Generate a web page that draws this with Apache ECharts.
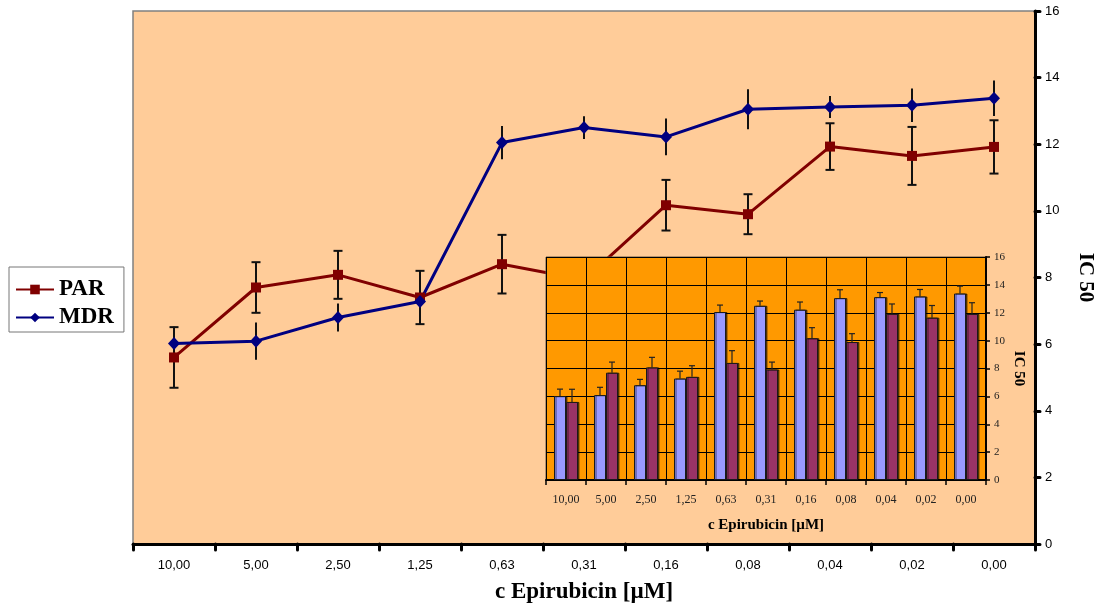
<!DOCTYPE html>
<html>
<head>
<meta charset="utf-8">
<script src="https://cdn.jsdelivr.net/npm/echarts@6/dist/echarts.min.js"></script>
<style>
  html, body { margin: 0; padding: 0; background: #ffffff; }
  #chart { width: 1101px; height: 610px; }
</style>
</head>
<body>
<div id="chart"></div>
<script>
// Epirubicin concentrations (µM)
const categories = ['10,00', '5,00', '2,50', '1,25', '0,63', '0,31', '0,16', '0,08', '0,04', '0,02', '0,00'];

// IC 50 means and standard deviations
const parMean = [5.6, 7.7, 8.08, 7.4, 8.4, 7.93, 10.17, 9.9, 11.93, 11.65, 11.92];
const parErr  = [0.91, 0.76, 0.72, 0.8, 0.88, 0.53, 0.76, 0.6, 0.7, 0.87, 0.8];
const mdrMean = [6.02, 6.09, 6.8, 7.28, 12.05, 12.5, 12.22, 13.05, 13.12, 13.17, 13.38];
const mdrErr  = [0.5, 0.56, 0.42, 0.53, 0.5, 0.34, 0.55, 0.6, 0.33, 0.5, 0.53];

const SERIF = '"Liberation Serif", "Times New Roman", serif';
const SANS = '"Liberation Sans", Arial, sans-serif';

const PAR_COLOR = '#800000';
const MDR_COLOR = '#000080';

function triples(mean, err) {
  return mean.map((v, i) => [i, v, err[i]]);
}

// Symmetric error bars for the line chart
function lineErrors(mean, err, capHalf) {
  return {
    type: 'custom',
    xAxisIndex: 0,
    yAxisIndex: 0,
    z: 1,
    silent: true,
    data: triples(mean, err),
    renderItem: function (params, api) {
      const x = api.value(0), y = api.value(1), e = api.value(2);
      const top = api.coord([x, y + e]);
      const bot = api.coord([x, y - e]);
      const style = { stroke: '#111', lineWidth: 2 };
      const children = [{ type: 'line', shape: { x1: top[0], y1: top[1], x2: bot[0], y2: bot[1] }, style }];
      if (capHalf > 0) {
        children.push({ type: 'line', shape: { x1: top[0] - capHalf, y1: top[1], x2: top[0] + capHalf, y2: top[1] }, style });
        children.push({ type: 'line', shape: { x1: bot[0] - capHalf, y1: bot[1], x2: bot[0] + capHalf, y2: bot[1] }, style });
      }
      return { type: 'group', children };
    }
  };
}

// Upper error bars for the grouped bars (offset to each bar's centre)
function barErrors(mean, err, offset) {
  return {
    type: 'custom',
    xAxisIndex: 1,
    yAxisIndex: 1,
    z: 14,
    silent: true,
    data: triples(mean, err),
    renderItem: function (params, api) {
      const x = api.value(0), y = api.value(1), e = api.value(2);
      const base = api.coord([x, y]);
      const top = api.coord([x, y + e]);
      const cx = base[0] + offset;
      const style = { stroke: '#222', lineWidth: 1.2 };
      return {
        type: 'group',
        children: [
          { type: 'line', shape: { x1: cx, y1: base[1], x2: cx, y2: top[1] }, style },
          { type: 'line', shape: { x1: cx - 3, y1: top[1], x2: cx + 3, y2: top[1] }, style }
        ]
      };
    }
  };
}

const chart = echarts.init(document.getElementById('chart'), null, { renderer: 'canvas' });

const option = {
  backgroundColor: '#ffffff',
  animation: false,
  legend: {
    data: ['PAR', 'MDR'],
    orient: 'vertical',
    left: 9,
    top: 267,
    padding: [11, 10, 3, 6],
    itemGap: 5,
    itemWidth: 38,
    itemHeight: 12,
    backgroundColor: '#ffffff',
    borderColor: '#777777',
    borderWidth: 1,
    borderRadius: 0,
    textStyle: { fontFamily: SERIF, fontWeight: 'bold', fontSize: 23, color: '#000' }
  },
  grid: [
    {
      left: 133, right: 66, top: 11, bottom: 66,
      outerBoundsMode: 'none', containLabel: false,
      show: true, backgroundColor: '#FFCC99', borderColor: '#808080', borderWidth: 1.5
    },
    {
      left: 546, right: 115, top: 257, bottom: 130,
      outerBoundsMode: 'none', containLabel: false,
      show: true, backgroundColor: '#FF9900', borderColor: '#6b5a40', borderWidth: 1,
      z: 10
    }
  ],
  xAxis: [
    {
      type: 'category', gridIndex: 0, data: categories, boundaryGap: true,
      axisLine: { lineStyle: { color: '#000', width: 3 } },
      axisTick: { show: true, length: 6, lineStyle: { color: '#000', width: 3, cap: 'round' } },
      axisLabel: { fontFamily: SANS, fontSize: 13, color: '#000', margin: 15 },
      splitLine: { show: false },
      name: 'c Epirubicin [µM]', nameLocation: 'middle', nameGap: 37, nameMoveOverlap: false,
      nameTextStyle: { fontFamily: SERIF, fontWeight: 'bold', fontSize: 23, color: '#000' }
    },
    {
      type: 'category', gridIndex: 1, data: categories, boundaryGap: true, z: 12,
      axisLine: { lineStyle: { color: '#000', width: 2 } },
      axisTick: { show: true, length: 5, lineStyle: { color: '#000', width: 1.5 } },
      axisLabel: { fontFamily: SERIF, fontSize: 12, color: '#222', margin: 14 },
      splitLine: { show: true, lineStyle: { color: '#000', width: 1 } },
      name: 'c Epirubicin [µM]', nameLocation: 'middle', nameGap: 38, nameMoveOverlap: false,
      nameTextStyle: { fontFamily: SERIF, fontWeight: 'bold', fontSize: 15, color: '#000' }
    }
  ],
  yAxis: [
    {
      type: 'value', gridIndex: 0, position: 'right', min: 0, max: 16, interval: 2,
      axisLine: { show: true, lineStyle: { color: '#000', width: 3 } },
      axisTick: { show: true, length: 5, lineStyle: { color: '#000', width: 3, cap: 'round' } },
      axisLabel: { fontFamily: SANS, fontSize: 13, color: '#000', margin: 10 },
      splitLine: { show: false },
      name: 'IC 50', nameLocation: 'middle', nameGap: 40, nameRotate: -90, nameMoveOverlap: false,
      nameTextStyle: { fontFamily: SERIF, fontWeight: 'bold', fontSize: 21, color: '#000' }
    },
    {
      type: 'value', gridIndex: 1, position: 'right', min: 0, max: 16, interval: 2, z: 12,
      axisLine: { show: true, lineStyle: { color: '#000', width: 2 } },
      axisTick: { show: true, length: 4, lineStyle: { color: '#000', width: 1.5 } },
      axisLabel: { fontFamily: SERIF, fontSize: 11, color: '#222', margin: 8 },
      splitLine: { show: true, lineStyle: { color: '#000', width: 1 } },
      name: 'IC 50', nameLocation: 'middle', nameGap: 25, nameRotate: -90, nameMoveOverlap: false,
      nameTextStyle: { fontFamily: SERIF, fontWeight: 'bold', fontSize: 15, color: '#000' }
    }
  ],
  series: [
    {
      name: 'PAR', type: 'line', xAxisIndex: 0, yAxisIndex: 0, z: 2,
      data: parMean,
      symbol: 'rect', symbolSize: 10,
      lineStyle: { color: PAR_COLOR, width: 3 },
      itemStyle: { color: PAR_COLOR }
    },
    {
      name: 'MDR', type: 'line', xAxisIndex: 0, yAxisIndex: 0, z: 2,
      data: mdrMean,
      symbol: 'diamond', symbolSize: [12, 13],
      lineStyle: { color: MDR_COLOR, width: 3 },
      itemStyle: { color: MDR_COLOR }
    },
    lineErrors(parMean, parErr, 4.5),
    lineErrors(mdrMean, mdrErr, 0),
    {
      name: 'MDR bars', type: 'bar', xAxisIndex: 1, yAxisIndex: 1, z: 13,
      data: mdrMean, barWidth: 12, barGap: '0%',
      itemStyle: { color: '#9999FF', borderColor: '#1a1a1a', borderWidth: 1, shadowColor: 'rgba(0,0,0,0.55)', shadowOffsetX: 1.5 }
    },
    {
      name: 'PAR bars', type: 'bar', xAxisIndex: 1, yAxisIndex: 1, z: 13,
      data: parMean, barWidth: 12, barGap: '0%',
      itemStyle: { color: '#993366', borderColor: '#1a1a1a', borderWidth: 1, shadowColor: 'rgba(0,0,0,0.55)', shadowOffsetX: 1.5 }
    },
    barErrors(mdrMean, mdrErr, -6),
    barErrors(parMean, parErr, 6)
  ]
};

chart.setOption(option);
</script>
</body>
</html>
